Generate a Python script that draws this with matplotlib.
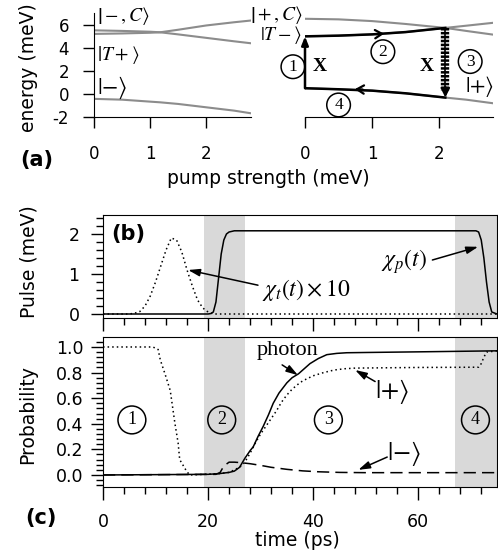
import matplotlib
matplotlib.use("Agg")
import matplotlib.pyplot as plt
from matplotlib.ticker import MultipleLocator, FormatStrFormatter
from matplotlib.mathtext import MathTextParser
from matplotlib.font_manager import FontProperties

plt.rcParams['font.family'] = ['DejaVu Sans']
plt.rcParams['mathtext.fontset'] = 'stix'

# ---------------- data ----------------
# panel (a) left: energy levels vs pump strength
pump_left = [0, 0.5, 1.0, 1.18, 1.5, 2.0, 2.5, 2.8]
level_minusC = [5.5, 5.45, 5.38, 5.33, 5.15, 4.85, 4.55, 4.38]
level_Tplus = [5.19, 5.23, 5.29, 5.33, 5.55, 5.92, 6.2, 6.35]
level_minus = [-0.43, -0.5, -0.67, -0.73, -0.87, -1.16, -1.45, -1.68]

# panel (a) right
pump_right = [0, 0.5, 1.0, 1.5, 2.09, 2.4, 2.8]
level_plusC = [6.5, 6.45, 6.3, 6.05, 5.71, 5.45, 5.13]
level_Tminus = [4.98, 5.04, 5.15, 5.35, 5.71, 5.9, 6.15]
level_plus = [0.49, 0.4, 0.28, 0.05, -0.32, -0.5, -0.81]
pump_switch = 2.09

# panel (b): pulses
t_trig = [0, 5, 6, 7, 8, 9, 10, 11, 12, 13, 14, 15, 16, 17, 18, 19, 20, 21, 75]
chi_t_x10 = [0, 0, 0.02, 0.06, 0.2, 0.45, 0.8, 1.2, 1.6, 1.9, 1.85, 1.55, 1.1,
             0.7, 0.35, 0.15, 0.05, 0, 0]
t_pump = [0, 20, 20.5, 21, 21.5, 22, 22.5, 23, 23.5, 24, 25, 71, 71.5, 72,
          72.5, 73, 73.5, 74, 75]
chi_p = [0, 0, 0.01, 0.05, 0.3, 0.9, 1.5, 1.85, 2.0, 2.05, 2.08, 2.08, 2.05,
         1.85, 1.4, 0.8, 0.3, 0.05, 0]

# panel (c): probabilities
t_state = [0, 9.5, 10.5, 10.9, 11.8, 12.8, 13.7, 14.3, 14.6, 15.9, 16.5, 22, 24,
           26, 27, 28, 29, 30, 31, 32, 33, 34, 35, 36, 37, 38, 40, 42, 44, 46,
           48, 60, 71.5, 72, 72.5, 73, 75]
p_state = [1.0, 1.0, 0.98, 0.9, 0.79, 0.66, 0.4, 0.25, 0.12, 0.03, 0.0, 0.01,
           0.02, 0.06, 0.1, 0.17, 0.25, 0.32, 0.38, 0.44, 0.5, 0.57, 0.625,
           0.67, 0.705, 0.735, 0.775, 0.8, 0.82, 0.83, 0.835, 0.84, 0.842,
           0.87, 0.92, 0.96, 0.97]
t_photon = [0, 20, 22, 24, 25, 26, 27, 28, 28.6, 29.5, 30.5, 31.5, 32.4, 33.5,
            35, 36, 37.2, 38.3, 39.4, 41, 42.6, 44.5, 46.4, 50, 60, 75]
p_photon = [0, 0.005, 0.01, 0.02, 0.03, 0.06, 0.13, 0.19, 0.22, 0.3, 0.38,
            0.47, 0.56, 0.64, 0.72, 0.76, 0.79, 0.83, 0.87, 0.91, 0.94, 0.95,
            0.955, 0.957, 0.962, 0.97]
t_minus = [0, 21.5, 22.3, 23, 24, 25, 26, 28, 30, 32, 35, 38, 41, 45, 50, 75]
p_minus = [0, 0.005, 0.02, 0.07, 0.1, 0.1, 0.097, 0.088, 0.075, 0.06, 0.044,
           0.032, 0.025, 0.02, 0.018, 0.018]

stage_spans = [(19.2, 27.0), (67.0, 75.0)]

# ---------------- helpers ----------------
_parser = MathTextParser('agg')


def _parses(s):
    try:
        _parser.parse(s, dpi=100, prop=FontProperties(size=12))
        return True
    except Exception:
        return False


def short_ket(sym):
    """ket with tall delimiters even for a short symbol"""
    for tmpl in (r'$\left|\vphantom{T}{%s}\right\rangle$',):
        s = tmpl % sym
        if _parses(s):
            return s, 0
    return r'$|{%s}\rangle$' % sym, 3


W, H = 498, 555
fig = plt.figure(figsize=(W / 100, H / 100), dpi=100)


def ax_px(l, t, r, b):
    return fig.add_axes([l / W, 1 - b / H, (r - l) / W, (b - t) / H])


def arrow(ax, tail, tip):
    ax.annotate('', xy=tip, xytext=tail,
                arrowprops=dict(arrowstyle='-|>,head_length=0.7,head_width=0.22',
                                lw=1.1, color='k', shrinkA=0, shrinkB=0))


grey = '#8c8c8c'
ket_fs = 14
ket_minus, extra_m = short_ket('-')
ket_plus, extra_p = short_ket('+')

# ---- (a) left ----
axL = ax_px(94, 13, 251, 117)
axL.set_xlim(0, 2.8)
axL.set_ylim(-2, 7)
for s in ['top', 'right']:
    axL.spines[s].set_visible(False)
axL.plot(pump_left, level_minusC, color=grey, lw=1.5)
axL.plot(pump_left, level_Tplus, color=grey, lw=1.5)
axL.plot(pump_left, level_minus, color=grey, lw=1.5)
axL.set_xticks([0, 1, 2])
axL.set_yticks([-2, 0, 2, 4, 6])
axL.set_yticklabels(['-2', '0', '2', '4', '6'])
axL.tick_params(direction='out', length=8, width=1, labelsize=12)
axL.tick_params(axis='x', pad=12)
axL.tick_params(axis='y', pad=10)
axL.text(0.06, 6.75, r'$\left|-,C\right\rangle$', fontsize=ket_fs, va='center', ha='left')
axL.text(0.06, 3.4, r'$\left|T+\right\rangle$', fontsize=ket_fs, va='center', ha='left')
axL.text(0.06, 0.55, ket_minus, fontsize=ket_fs + extra_m, va='center', ha='left')

# ---- (a) right ----
axR = ax_px(305, 13, 493, 117)
axR.set_xlim(0, 2.8)
axR.set_ylim(-2, 7)
for s in ['top', 'right', 'left']:
    axR.spines[s].set_visible(False)
axR.set_yticks([])
axR.set_xticks([0, 1, 2])
axR.tick_params(direction='out', length=8, width=1, labelsize=12, pad=12)
axR.plot(pump_right, level_plusC, color=grey, lw=1.5)
axR.plot(pump_right, level_Tminus, color=grey, lw=1.5)
axR.plot(pump_right, level_plus, color=grey, lw=1.5)
k_sw = pump_right.index(pump_switch)
# step 2 along |T->
axR.plot(pump_right[:k_sw + 1], level_Tminus[:k_sw + 1], color='k', lw=1.8)
axR.annotate('', xy=(pump_right[2] + 0.22, level_Tminus[2] + 0.07),
             xytext=(pump_right[2] + 0.02, level_Tminus[2] + 0.01),
             arrowprops=dict(arrowstyle='->,head_length=0.5,head_width=0.3',
                             lw=1.6, color='k'))
# step 4 along |+>
axR.plot(pump_right[:k_sw + 1], level_plus[:k_sw + 1], color='k', lw=1.8)
axR.annotate('', xy=(pump_right[1] + 0.2, level_plus[1] + 0.02),
             xytext=(pump_right[1] + 0.4, level_plus[1] - 0.03),
             arrowprops=dict(arrowstyle='->,head_length=0.5,head_width=0.3',
                             lw=1.6, color='k'))
# step 1 vertical
axR.annotate('', xy=(0, level_Tminus[0]), xytext=(0, level_plus[0]),
             arrowprops=dict(arrowstyle='-|>,head_length=0.5,head_width=0.2',
                             lw=1.8, color='k', shrinkA=0, shrinkB=0),
             annotation_clip=False)
# step 3 wavy (coil)
axR.plot([pump_switch, pump_switch], [level_Tminus[k_sw], level_plus[k_sw] + 0.6],
         color='k', lw=1.2)
axR.plot([pump_switch, pump_switch], [level_Tminus[k_sw], level_plus[k_sw] + 0.6],
         color='k', lw=6, dashes=(0.3, 0.17), solid_capstyle='butt')
axR.annotate('', xy=(pump_switch, level_plus[k_sw]),
             xytext=(pump_switch, level_plus[k_sw] + 0.9),
             arrowprops=dict(arrowstyle='-|>,head_length=0.5,head_width=0.25',
                             lw=1.8, color='k', shrinkA=0, shrinkB=0))
axR.text(0.22, 2.35, 'X', fontsize=14, fontweight='bold',
         family='Liberation Serif', ha='center', va='center')
axR.text(1.82, 2.35, 'X', fontsize=14, fontweight='bold',
         family='Liberation Serif', ha='center', va='center')
circ = dict(boxstyle='circle,pad=0.22', fc='none', ec='k', lw=1.1)
for lab, (cx, cy) in zip(['1', '2', '3', '4'],
                         [(-0.18, 2.35), (1.16, 3.65), (2.46, 2.8), (0.5, -0.96)]):
    axR.text(cx, cy, lab, fontsize=12.5, family='Liberation Serif',
             ha='center', va='center', bbox=circ, clip_on=False)
axR.text(-0.04, 6.85, r'$\left|+,C\right\rangle$', fontsize=ket_fs, va='center', ha='right')
axR.text(-0.04, 5.1, r'$\left|T-\right\rangle$', fontsize=ket_fs, va='center', ha='right')
axR.text(2.38, 0.6, ket_plus, fontsize=ket_fs + extra_p - 1, va='center', ha='left')

fig.text(268 / W, 1 - 178 / H, 'pump strength (meV)', fontsize=13.5,
         ha='center', va='center')
fig.text(28 / W, 1 - 68 / H, 'energy (meV)', fontsize=13.5, rotation=90,
         ha='center', va='center')
fig.text(37 / W, 1 - 160 / H, '(a)', fontsize=15, fontweight='bold',
         ha='center', va='center')

# ---- (b) ----
axB = ax_px(103, 215, 497, 318)
axB.set_xlim(0, 75)
axB.set_ylim(-0.1, 2.475)
for a, b in stage_spans:
    axB.axvspan(a, b, color='#d9d9d9', lw=0, zorder=0)
axB.plot(t_trig, chi_t_x10, color='k', lw=1.1, ls=(0, (1, 2)))
axB.plot(t_pump, chi_p, color='k', lw=1.1)
axB.xaxis.set_major_locator(MultipleLocator(20))
axB.xaxis.set_minor_locator(MultipleLocator(4))
axB.yaxis.set_major_locator(MultipleLocator(1))
axB.yaxis.set_minor_locator(MultipleLocator(0.2))
axB.tick_params(which='major', direction='out', length=9, width=1, labelsize=12.5)
axB.tick_params(which='minor', direction='out', length=5, width=1)
axB.tick_params(axis='x', labelbottom=False)
axB.tick_params(axis='y', pad=8)
axB.text(4.8, 2.0, '(b)', fontsize=15, fontweight='bold', ha='center', va='center')
axB.text(38.6, 0.6, r'$\chi_t(t)\times10$', fontsize=17, ha='center', va='center')
arrow(axB, (29.5, 0.72), (16.2, 1.1))
axB.text(57.2, 1.32, r'$\chi_p(t)$', fontsize=17, ha='center', va='center')
arrow(axB, (62.7, 1.35), (71.4, 1.68))
fig.text(29 / W, 1 - 262 / H, 'Pulse (meV)', fontsize=13.5, rotation=90,
         ha='center', va='center')

# ---- (c) ----
axC = ax_px(103, 337, 497, 487)
axC.set_xlim(0, 75)
axC.set_ylim(-0.094, 1.078)
for a, b in stage_spans:
    axC.axvspan(a, b, color='#d9d9d9', lw=0, zorder=0)
axC.plot(t_state, p_state, color='k', lw=1.1, ls=(0, (1, 2)))
axC.plot(t_photon, p_photon, color='k', lw=1.1)
axC.plot(t_minus, p_minus, color='k', lw=1.1, ls=(0, (8, 4)))
axC.xaxis.set_major_locator(MultipleLocator(20))
axC.xaxis.set_minor_locator(MultipleLocator(4))
axC.yaxis.set_major_locator(MultipleLocator(0.2))
axC.yaxis.set_minor_locator(MultipleLocator(0.04))
axC.yaxis.set_major_formatter(FormatStrFormatter('%.1f'))
axC.tick_params(which='major', direction='out', length=9, width=1, labelsize=12.5)
axC.tick_params(which='minor', direction='out', length=5, width=1)
axC.tick_params(axis='x', pad=10)
axC.tick_params(axis='y', pad=5)
for lab, cx in zip(['1', '2', '3', '4'], [5.5, 22.6, 42.9, 70.9]):
    axC.text(cx, 0.43, lab, fontsize=13, family='Liberation Serif',
             ha='center', va='center',
             bbox=dict(boxstyle='circle,pad=0.3', fc='none', ec='k', lw=1.1))
axC.text(35.2, 0.97, 'photon', fontsize=16, family='Liberation Serif',
         ha='center', va='center')
arrow(axC, (34.1, 0.86), (37.1, 0.78))
axC.text(55.0, 0.65, ket_plus, fontsize=16 + extra_p, ha='center', va='center')
arrow(axC, (51.8, 0.73), (48.0, 0.82))
axC.text(57.2, 0.17, ket_minus, fontsize=16 + extra_m, ha='center', va='center')
arrow(axC, (54.1, 0.14), (48.6, 0.04))
fig.text(28 / W, 1 - 415 / H, 'Probability', fontsize=13.5, rotation=90,
         ha='center', va='center')
fig.text(297 / W, 1 - 540 / H, 'time (ps)', fontsize=13.5, ha='center',
         va='center')
fig.text(41 / W, 1 - 518 / H, '(c)', fontsize=15, fontweight='bold',
         ha='center', va='center')

fig.savefig('out.png', dpi=100)
